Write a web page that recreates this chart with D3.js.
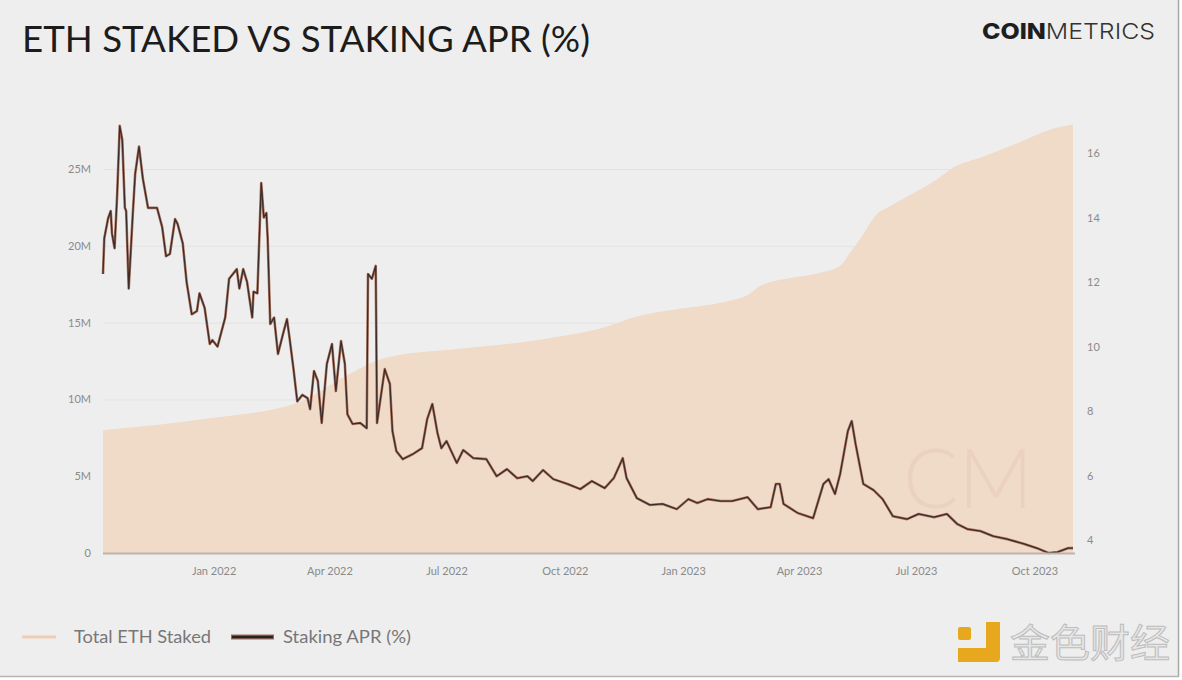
<!DOCTYPE html>
<html>
<head>
<meta charset="utf-8">
<script src="https://cdn.jsdelivr.net/npm/d3@7/dist/d3.min.js"></script>
<style>
  html, body { margin: 0; padding: 0; background: #ffffff; }
  svg { display: block; }
</style>
</head>
<body>
<svg id="chart" width="1182" height="680"></svg>
<script>
// ---------- DATA ----------
const title = "ETH STAKED VS STAKING APR (%)";
const seriesNames = ["Total ETH Staked", "Staking APR (%)"];

// Total ETH staked (millions of ETH)
const stakedDates = ["2021-10-07","2022-01-01","2022-03-08","2022-04-09","2022-05-14","2022-07-11","2022-08-27","2022-09-27","2022-10-28","2022-11-26","2022-12-29","2023-01-30","2023-02-22","2023-03-02","2023-04-02","2023-04-15","2023-05-03","2023-05-11","2023-05-19","2023-06-01","2023-06-09","2023-06-24","2023-07-15","2023-07-30","2023-08-22","2023-09-18","2023-10-14","2023-10-31"];
const stakedValues = [8.0,8.8,9.8,11.3,12.7,13.3,13.7,14.1,14.6,15.4,15.9,16.3,16.9,17.4,18.0,18.2,18.7,19.6,20.5,22.1,22.5,23.2,24.2,25.1,25.8,26.7,27.6,27.9];

// Staking APR (%)
const aprDates = ["2021-10-07","2021-10-08","2021-10-11","2021-10-13","2021-10-14","2021-10-16","2021-10-18","2021-10-20","2021-10-22","2021-10-24","2021-10-25","2021-10-27","2021-10-30","2021-11-01","2021-11-04","2021-11-07","2021-11-11","2021-11-18","2021-11-22","2021-11-25","2021-11-28","2021-12-02","2021-12-04","2021-12-08","2021-12-11","2021-12-15","2021-12-19","2021-12-21","2021-12-25","2021-12-29","2021-12-31","2022-01-04","2022-01-10","2022-01-13","2022-01-19","2022-01-21","2022-01-24","2022-01-27","2022-01-31","2022-02-01","2022-02-04","2022-02-07","2022-02-09","2022-02-11","2022-02-12","2022-02-14","2022-02-17","2022-02-20","2022-02-24","2022-02-27","2022-03-01","2022-03-04","2022-03-07","2022-03-11","2022-03-15","2022-03-17","2022-03-20","2022-03-23","2022-03-26","2022-03-30","2022-04-03","2022-04-06","2022-04-10","2022-04-13","2022-04-15","2022-04-19","2022-04-25","2022-04-30","2022-05-01","2022-05-04","2022-05-07","2022-05-08","2022-05-14","2022-05-18","2022-05-20","2022-05-23","2022-05-28","2022-06-05","2022-06-12","2022-06-16","2022-06-20","2022-06-24","2022-06-27","2022-07-01","2022-07-09","2022-07-14","2022-07-22","2022-08-01","2022-08-09","2022-08-17","2022-08-25","2022-09-02","2022-09-06","2022-09-14","2022-09-22","2022-10-03","2022-10-13","2022-10-22","2022-11-01","2022-11-08","2022-11-15","2022-11-18","2022-11-26","2022-12-06","2022-12-16","2022-12-27","2023-01-05","2023-01-12","2023-01-20","2023-01-30","2023-02-08","2023-02-20","2023-02-28","2023-03-10","2023-03-14","2023-03-17","2023-03-20","2023-03-31","2023-04-12","2023-04-20","2023-04-24","2023-04-29","2023-05-03","2023-05-09","2023-05-12","2023-05-15","2023-05-21","2023-05-29","2023-06-05","2023-06-13","2023-06-24","2023-07-03","2023-07-15","2023-07-25","2023-08-02","2023-08-10","2023-08-20","2023-08-30","2023-09-10","2023-09-23","2023-10-03","2023-10-12","2023-10-19","2023-10-27","2023-10-31"];
const aprValues = [12.25,13.36,13.98,14.2,13.5,13.05,14.7,16.84,16.4,14.3,14.2,11.8,14.0,15.35,16.2,15.2,14.3,14.3,13.7,12.8,12.87,13.95,13.8,13.2,12.0,11.0,11.1,11.65,11.2,10.08,10.2,10.0,10.9,12.1,12.4,11.8,12.4,12.0,10.9,11.7,11.65,15.07,14.0,14.14,13.36,10.7,10.9,9.77,10.4,10.85,10.27,9.33,8.3,8.5,8.4,8.06,9.24,8.93,7.63,9.46,10.08,8.62,10.17,9.46,7.9,7.6,7.63,7.47,12.25,12.1,12.5,7.63,9.3,8.84,7.38,6.76,6.51,6.67,6.85,7.75,8.22,7.32,6.85,7.07,6.39,6.79,6.54,6.51,5.98,6.2,5.92,5.98,5.83,6.17,5.89,5.74,5.58,5.83,5.61,5.92,6.54,5.92,5.3,5.09,5.12,4.96,5.27,5.15,5.27,5.21,5.21,5.33,4.96,5.02,5.74,5.74,5.12,4.84,4.68,5.74,5.89,5.43,6.05,7.38,7.69,6.98,5.74,5.55,5.27,4.74,4.65,4.81,4.71,4.81,4.5,4.34,4.28,4.12,4.03,3.88,3.75,3.6,3.63,3.75,3.75];

// Axis ticks
const leftTicks = [0, 5, 10, 15, 20, 25];          // millions
const leftTickLabels = ["0", "5M", "10M", "15M", "20M", "25M"];
const rightTicks = [4, 6, 8, 10, 12, 14, 16];
const xTickDates = ["2022-01-01","2022-04-01","2022-07-01","2022-10-01","2023-01-01","2023-04-01","2023-07-01","2023-10-01"];
const xTickLabels = ["Jan 2022","Apr 2022","Jul 2022","Oct 2022","Jan 2023","Apr 2023","Jul 2023","Oct 2023"];

// ---------- DRAW ----------
const parse = d3.utcParse("%Y-%m-%d");
const staked = stakedDates.map((d, i) => ({ date: parse(d), v: stakedValues[i] }));
const apr = aprDates.map((d, i) => ({ date: parse(d), v: aprValues[i] }));

const svg = d3.select("#chart");
const plot = { left: 103, right: 1073, top: 123, bottom: 553 };

// frame
svg.append("rect").attr("x", 0).attr("y", 0).attr("width", 1178).attr("height", 676).attr("fill", "#eeeeee");
svg.append("line").attr("x1", 1178.5).attr("x2", 1178.5).attr("y1", 0).attr("y2", 677).attr("stroke", "#a9a9a9").attr("stroke-width", 1.5);
svg.append("line").attr("x1", 0).attr("x2", 1179).attr("y1", 676.5).attr("y2", 676.5).attr("stroke", "#b5b5b5").attr("stroke-width", 1.5);

const x = d3.scaleUtc()
  .domain([parse("2021-10-07"), parse("2023-10-31")])
  .range([plot.left, plot.right]);
const yL = d3.scaleLinear().domain([0, 28]).range([plot.bottom, plot.top]);
const yR = d3.scaleLinear().domain([3.6, 16.93]).range([plot.bottom, plot.top]);

// gridlines
svg.append("g").selectAll("line").data(leftTicks.filter(t => t > 0)).join("line")
  .attr("x1", plot.left).attr("x2", plot.right)
  .attr("y1", d => yL(d) + 0.5).attr("y2", d => yL(d) + 0.5)
  .attr("stroke", "#e3e3e3").attr("stroke-width", 1);

// area
const area = d3.area().x(d => x(d.date)).y0(plot.bottom).y1(d => yL(d.v)).curve(d3.curveMonotoneX);
svg.append("path").datum(staked).attr("d", area).attr("fill", "#f0dac8");

// CM watermark
svg.append("text").attr("x", 968).attr("y", 508).attr("text-anchor", "middle")
  .attr("font-family", "Lato, sans-serif").attr("font-weight", 300).attr("font-size", 82)
  .attr("fill", "#e9cdb8").attr("opacity", 0.6).text("CM");

// APR line
const line = d3.line().x(d => x(d.date)).y(d => yR(d.v)).curve(d3.curveLinear);
svg.append("path").datum(apr).attr("d", line).attr("fill", "none")
  .attr("stroke", "#a87460").attr("stroke-width", 2.6).attr("stroke-linejoin", "round");
svg.append("path").datum(apr).attr("d", line).attr("fill", "none")
  .attr("stroke", "#3e2c29").attr("stroke-width", 1.3).attr("stroke-linejoin", "round");

// baseline
svg.append("line").attr("x1", plot.left).attr("x2", plot.right + 2)
  .attr("y1", plot.bottom + 0.5).attr("y2", plot.bottom + 0.5)
  .attr("stroke", "#bdb3ae").attr("stroke-width", 2);

// left axis
const gL = svg.append("g").attr("transform", `translate(${plot.left - 12},0)`)
  .call(d3.axisLeft(yL).tickValues(leftTicks).tickSize(0).tickPadding(0)
    .tickFormat((d, i) => leftTickLabels[i]));
gL.select(".domain").remove();
gL.selectAll("text").attr("font-family", "Lato, sans-serif").attr("font-size", 11).attr("fill", "#8a8a8a");

// right axis
const gR = svg.append("g").attr("transform", `translate(${plot.right + 14},0)`)
  .call(d3.axisRight(yR).tickValues(rightTicks).tickSize(0).tickPadding(0).tickFormat(d3.format("d")));
gR.select(".domain").remove();
gR.selectAll("text").attr("font-family", "Lato, sans-serif").attr("font-size", 11).attr("fill", "#8a8a8a");

// bottom axis
const gB = svg.append("g").attr("transform", `translate(0,${plot.bottom + 14})`)
  .call(d3.axisBottom(x).tickValues(xTickDates.map(parse)).tickSize(0).tickPadding(0)
    .tickFormat((d, i) => xTickLabels[i]));
gB.select(".domain").remove();
gB.selectAll("text").attr("font-family", "Lato, sans-serif").attr("font-size", 11).attr("fill", "#8a8a8a");

// title
svg.append("text").attr("x", 22).attr("y", 52)
  .attr("font-family", "Lato, sans-serif").attr("font-size", 36).attr("font-weight", 400)
  .attr("fill", "#1c1c1c").attr("textLength", 568).attr("lengthAdjust", "spacingAndGlyphs")
  .text(title);

// COINMETRICS logo
const logo = svg.append("text").attr("x", 982).attr("y", 39)
  .attr("font-family", "Inter, 'Open Sans', sans-serif").attr("font-size", 22)
  .attr("textLength", 173).attr("lengthAdjust", "spacingAndGlyphs");
logo.append("tspan").attr("font-weight", 800).attr("fill", "#1e1e1e").text("COIN");
logo.append("tspan").attr("font-weight", 300).attr("fill", "#333").text("METRICS");

// legend
const leg = svg.append("g");
leg.append("line").attr("x1", 22).attr("x2", 56).attr("y1", 637).attr("y2", 637)
  .attr("stroke", "#efcdb4").attr("stroke-width", 3);
leg.append("text").attr("x", 74).attr("y", 643)
  .attr("font-family", "Lato, sans-serif").attr("font-size", 18).attr("fill", "#777777")
  .attr("textLength", 137).attr("lengthAdjust", "spacingAndGlyphs").text(seriesNames[0]);
leg.append("line").attr("x1", 231).attr("x2", 274).attr("y1", 637).attr("y2", 637)
  .attr("stroke", "#9a6a58").attr("stroke-width", 5);
leg.append("line").attr("x1", 232).attr("x2", 273).attr("y1", 637).attr("y2", 637)
  .attr("stroke", "#222").attr("stroke-width", 2.6);
leg.append("text").attr("x", 283).attr("y", 643)
  .attr("font-family", "Lato, sans-serif").attr("font-size", 18).attr("fill", "#777777")
  .attr("textLength", 128).attr("lengthAdjust", "spacingAndGlyphs").text(seriesNames[1]);

// bottom-right watermark
const wm = svg.append("g");
wm.append("path").attr("d", "M986,622 h14 v36 a4,4 0 0 1 -4,4 h-38 v-14 h28 z").attr("fill", "#e8a81e");
wm.append("rect").attr("x", 958).attr("y", 627).attr("width", 13).attr("height", 13).attr("rx", 2).attr("fill", "#e8a81e");
wm.append("text").attr("x", 1010).attr("y", 657)
  .attr("font-family", "'Noto Sans CJK SC', sans-serif").attr("font-size", 39)
  .attr("fill", "#e6e6e6").attr("stroke", "#bdbdbd").attr("stroke-width", 1)
  .attr("textLength", 160).attr("lengthAdjust", "spacingAndGlyphs").text("金色财经");
</script>
</body>
</html>
